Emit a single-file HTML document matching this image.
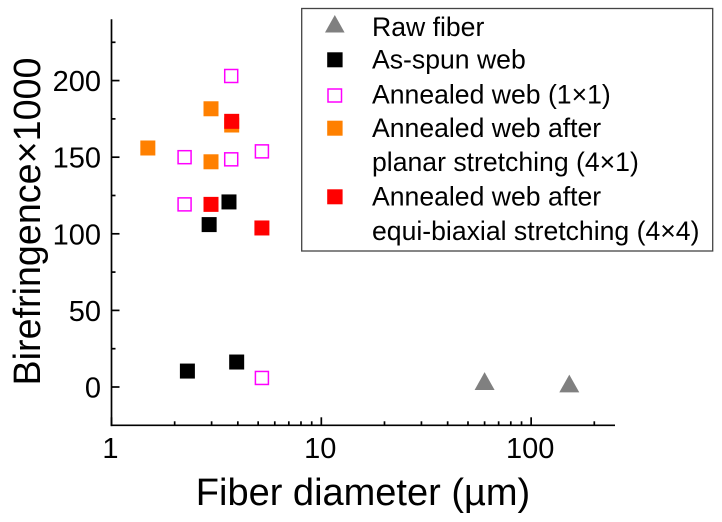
<!DOCTYPE html>
<html>
<head>
<meta charset="utf-8">
<style>
html,body{margin:0;padding:0;background:#fff;width:722px;height:522px;overflow:hidden}
svg{display:block}
text{font-family:"Liberation Sans",sans-serif;fill:#000}
</style>
</head>
<body>
<svg id="chart" xmlns="http://www.w3.org/2000/svg" width="722" height="522" viewBox="0 0 722 522">
<g id="marks"></g>
<g id="axes"></g>
<text transform="translate(40,221.5) rotate(-90)" text-anchor="middle" font-size="37.7">Birefringence×1000</text>
<text x="363" y="505" text-anchor="middle" font-size="38">Fiber diameter (µm)</text>
<rect x="301.7" y="8.5" width="411" height="242.5" fill="#fff" stroke="#444" stroke-width="1.3"/>
<g>
<polygon points="334.8,15 344.6,32.5 325,32.5" fill="#808080"/>
<text x="372" y="36" font-size="26.6">Raw fiber</text>
</g>
<g>
<rect x="327.2" y="52.3" width="15.4" height="15" fill="#000"/>
<text x="372" y="68.5" font-size="26.6">As-spun web</text>
</g>
<g>
<rect x="328" y="89" width="13.5" height="13" fill="#fff" stroke="#ff00ff" stroke-width="1.5"/>
<text x="372" y="103.5" font-size="26.6">Annealed web (1×1)</text>
</g>
<g>
<rect x="327.2" y="120.7" width="15.4" height="15" fill="#ff8000"/>
<text x="372" y="137" font-size="26.6">Annealed web after</text>
<text x="372" y="171" font-size="26.6">planar stretching (4×1)</text>
</g>
<g>
<rect x="327.2" y="189.3" width="15.4" height="15" fill="#ff0000"/>
<text x="372" y="205.5" font-size="26.6">Annealed web after</text>
<text x="372" y="240" font-size="26.6">equi-biaxial stretching (4×4)</text>
</g>
</svg>
<script>
const xMajorTicks = [1, 10, 100];
const xMinorTicks = [2, 3, 4, 5, 6, 7, 8, 9, 20, 30, 40, 50, 60, 70, 80, 90, 200];
const yMajorTicks = [0, 50, 100, 150, 200];
const yMinorTicks = [25, 75, 125, 175, 225];

const rawFiberX = [60, 152];
const rawFiberY = [3.8, 2.2];
const asSpunX = [2.92, 3.63, 2.30, 3.95];
const asSpunY = [106, 120.8, 10.4, 16.3];
const annealedX = [3.72, 2.23, 2.23, 3.72, 5.21, 5.21];
const annealedY = [203, 150, 119.2, 148.6, 153.8, 5.9];
const planarX = [1.49, 2.98, 2.98, 3.74];
const planarY = [156, 181.6, 147, 171];
const biaxialX = [3.74, 2.98, 5.21];
const biaxialY = [173.4, 119.2, 103.8];

const xMin = 1, xMax = 251, yMin = -25, yMax = 240;
const plotLeft = 111.5, plotRight = 615, plotBottom = 425.3, plotTop = 19.3;
const NS = 'http://www.w3.org/2000/svg';

function xScale(v) {
  return plotLeft + (Math.log10(v) - Math.log10(xMin)) / (Math.log10(xMax) - Math.log10(xMin)) * (plotRight - plotLeft);
}
function yScale(v) {
  return plotBottom - (v - yMin) / (yMax - yMin) * (plotBottom - plotTop);
}
function make(tag, attrs, parent) {
  const el = document.createElementNS(NS, tag);
  for (const k in attrs) el.setAttribute(k, attrs[k]);
  parent.appendChild(el);
  return el;
}
const axesGroup = document.getElementById('axes');
const marksGroup = document.getElementById('marks');
const axisStroke = {stroke: '#000', 'stroke-width': 1.7};

const xAxisLine = make('line', Object.assign({x1: plotLeft - 0.8, x2: plotRight, y1: plotBottom, y2: plotBottom}, axisStroke), axesGroup);


const yAxisLine = make('line', Object.assign({x1: plotLeft, x2: plotLeft, y1: plotTop, y2: plotBottom + 0.8}, axisStroke), axesGroup);



xMajorTicks.forEach(function (t) {
  const px = xScale(t);
  const tick = make('line', Object.assign({x1: px, x2: px, y1: plotBottom, y2: plotBottom - 8}, axisStroke), axesGroup);
  
  
  const label = make('text', {x: px - 1, y: 458, 'text-anchor': 'middle', 'font-size': 29}, axesGroup);
  
  
  label.textContent = t;
});
xMinorTicks.forEach(function (t) {
  const px = xScale(t);
  const tick = make('line', Object.assign({x1: px, x2: px, y1: plotBottom, y2: plotBottom - 4}, axisStroke), axesGroup);
  
  
});
yMajorTicks.forEach(function (t) {
  const py = yScale(t);
  const tick = make('line', Object.assign({x1: plotLeft, x2: plotLeft + 8, y1: py, y2: py}, axisStroke), axesGroup);
  
  
  const label = make('text', {x: 101, y: py + 10.5, 'text-anchor': 'end', 'font-size': 29}, axesGroup);
  
  
  label.textContent = t;
});
yMinorTicks.forEach(function (t) {
  const py = yScale(t);
  const tick = make('line', Object.assign({x1: plotLeft, x2: plotLeft + 4, y1: py, y2: py}, axisStroke), axesGroup);
  
  
});

function squares(xs, ys, attrs, size, name) {
  xs.forEach(function (v, i) {
    const cx = xScale(v), cy = yScale(ys[i]);
    const r = make('rect', Object.assign({x: cx - size / 2, y: cy - size / 2, width: size, height: size}, attrs), marksGroup);
    
    
  });
}
rawFiberX.forEach(function (v, i) {
  const cx = xScale(v), cy = yScale(rawFiberY[i]);
  const pts = [[cx, cy - 9], [cx + 10, cy + 8.8], [cx - 10, cy + 8.8]].map(function (p) { return p.join(','); }).join(' ');
  const tri = make('polygon', {points: pts, fill: '#808080'}, marksGroup);
  
  
});
squares(asSpunX, asSpunY, {fill: '#000'}, 15, 'as-spun-web-point');
squares(annealedX, annealedY, {fill: '#fff', stroke: '#ff00ff', 'stroke-width': 1.5}, 13, 'annealed-web-point');
squares(planarX, planarY, {fill: '#ff8000'}, 15, 'planar-stretching-point');
squares(biaxialX, biaxialY, {fill: '#ff0000'}, 15, 'biaxial-stretching-point');
</script>
</body>
</html>
